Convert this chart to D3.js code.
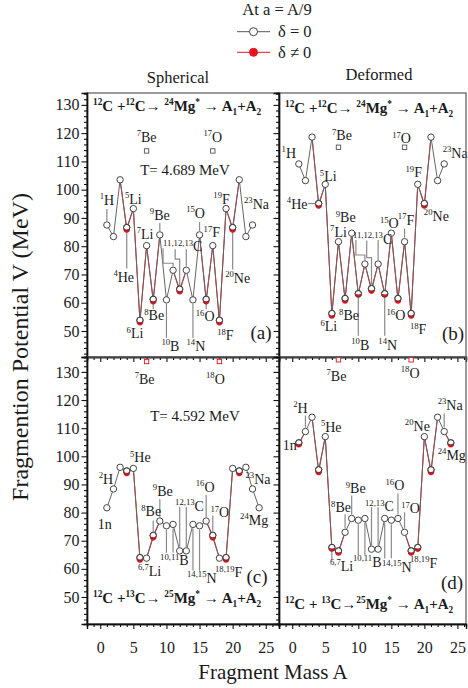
<!DOCTYPE html>
<html><head><meta charset="utf-8">
<script src="https://cdn.jsdelivr.net/npm/d3@7/dist/d3.min.js"></script>
<style>
html,body{margin:0;padding:0;background:#fff;}
svg{display:block;}
text{font-family:"Liberation Serif","Times New Roman",Times,serif;fill:#1a1a1a;}
</style></head><body>
<svg id="chart" width="468" height="688"></svg>
<script>
// ================= DATA =================
const massA24 = [1,2,3,4,5,6,7,8,9,10,11,12,13,14,15,16,17,18,19,20,21,22,23];
const massA25 = [1,2,3,4,5,6,7,8,9,10,11,12,13,14,15,16,17,18,19,20,21,22,23,24];

// (a) 12C+12C, spherical
const vSph12Zero = [87.5,83.4,103.5,86.6,93.3,53.8,80.2,61.2,84.0,61.0,71.5,64.8,71.5,61.0,84.0,61.2,80.2,53.8,93.3,86.6,103.5,83.4,87.5];
const vSph12Def  = [87.5,83.4,103.5,85.9,93.3,53.1,80.2,60.5,84.0,61.0,71.5,64.1,71.5,61.0,84.0,60.5,80.2,53.1,93.3,85.9,103.5,83.4,87.5];
// (b) 12C+12C, deformed
const vDef12Zero = [109.1,103.2,118.6,95.1,101.9,56.2,81.6,61.5,84.6,63.2,73.7,65.0,73.7,63.2,84.6,61.5,81.6,56.2,101.9,95.1,118.6,103.2,109.1];
const vDef12Def  = [109.1,103.2,118.6,94.4,101.9,55.5,81.6,60.8,84.6,62.9,73.7,64.3,73.7,62.9,84.6,60.8,81.6,55.5,101.9,94.4,118.6,103.2,109.1];
// (c) 12C+13C, spherical
const vSph13Zero = [81.7,88.4,96.1,94.8,95.7,64.0,63.8,71.9,77.0,75.3,75.8,66.4,66.4,75.8,75.3,77.0,71.9,63.8,64.0,95.7,94.8,96.1,88.4,81.7];
const vSph13Def  = [81.7,88.4,96.1,94.1,95.7,63.3,63.8,71.2,77.0,75.3,75.8,66.4,66.4,75.8,75.3,77.0,71.2,63.8,63.3,95.7,94.1,96.1,88.4,81.7];
// (d) 12C+13C, deformed
const vDef13Zero = [104.8,108.8,113.9,95.2,107.0,67.6,66.4,73.0,77.9,77.3,77.9,67.0,67.0,77.9,77.3,77.9,73.0,66.4,67.6,107.0,95.2,113.9,108.8,104.8];
const vDef13Def  = [104.3,108.8,113.9,94.4,107.0,67.2,65.8,73.0,77.9,77.3,77.9,67.0,67.0,77.9,77.3,77.9,73.0,65.8,67.2,107.0,94.4,113.9,108.8,104.3];

// isolated square markers
const sq12Mass = [7, 17];
const sq12Names = [['7','Be'],['17','O']];
const vSph12Square = [113.7, 113.7];
const vDef12Square = [115.0, 115.0];
const sq13Mass = [7, 18];
const sq13Names = [['7','Be'],['18','O']];
const vSph13Square = [133.7, 133.7];
const vDef13Square = [134.3, 134.3];

const xTickValues = [0,5,10,15,20,25];
const yTickValues = [50,60,70,80,90,100,110,120,130];
const temperatures = ['T= 4.689 MeV', 'T= 4.592 MeV'];
const columnTitles = ['Spherical','Deformed'];
const legendTitle = 'At a = A/9';
const legendLabels = ['\u03b4 = 0', '\u03b4 \u2260  0'];
const panelTags = ['(a)','(b)','(c)','(d)'];
const xAxisTitle = 'Fragment Mass A';
const yAxisTitle = 'Fragmention Potential V (MeV)';

// ================= LAYOUT =================
const W = 468, H = 688;
const colX = [[87,279],[279,466]];
const rowY = [[93,357],[357,624]];
const xDomains = [[-2,27],[-2,26.3]];
const yDomains = [[40.8,134.2],[40.4,135.3]];
const RED = '#e8131b', LINE = '#666666', LEAD = '#8a8a8a';

const title12 = [['12','sup'],['C +','n'],['12','sup'],['C\u2192 ','n'],['24','sup'],['Mg','n'],['*','sup'],[' \u2192 A','n'],['1','sub'],['+A','n'],['2','sub']];
const title13c = [['12','sup'],['C +','n'],['13','sup'],['C\u2192 ','n'],['25','sup'],['Mg','n'],['*','sup'],[' \u2192 A','n'],['1','sub'],['+A','n'],['2','sub']];
const title13d = [['12','sup'],['C + ','n'],['13','sup'],['C\u2192','n'],['25','sup'],['Mg','n'],['*','sup'],[' \u2192 A','n'],['1','sub'],['+A','n'],['2','sub']];

const panels = [
 {col:0,row:0, mass:massA24, v0:vSph12Zero, v1:vSph12Def, sqM:sq12Mass, sqV:vSph12Square, sqN:sq12Names, sqColor:'#555',
  sqOff:[[0,-9],[0,-9]], title:title12, titlePos:[93,111], tag:panelTags[0], tagPos:[261,339], temp:temperatures[0], tempPos:[185,175],
  labels:[[1,'1','H',0,-20,[-4,-16]],[4,'4','He',-3,54,[4,41]],[5,'5','Li',0,-5,null],[6,'6','Li',-5,18,null],
   [7,'7','Li',-1.5,-7,null],[8,'8','Be',1,21,[4,10]],[9,'9','Be',0,-15,[-4,-12]],[10,'10','B',4,51,[4,38]],
   [14,'14','N',3,51,[4,38]],[15,'15','O',-4,-17,[-4,-13]],[16,'16','O',-1,22,[4,10]],[17,'17','F',-1,-8.5,null],
   [18,'18','F',6,20,null],[19,'19','F',-4.5,-5,null],[20,'20','Ne',5,55,[4,42]],[23,'23','Na',4,-16,null]],
  groups:[{ref:11, parts:[['11,12,13','sup'],['C','n']], dx:-10, dy:-19,
     leaders:[[11,[[-10,-22],[-10,-7],[0,-7],[0,-4]]],[12,[[-4.5,-40],[-4.5,-30],[0,-30],[0,-4]]],[13,[[0,-21],[0,-4]]]]}]},
 {col:1,row:0, mass:massA24, v0:vDef12Zero, v1:vDef12Def, sqM:sq12Mass, sqV:vDef12Square, sqN:sq12Names, sqColor:'#555',
  sqOff:[[3.5,-7],[-3,-4]], title:title12, titlePos:[285,113], tag:panelTags[1], tagPos:[453,340], temp:null,
  labels:[[1,'1','H',-10,-6,null],[4,'4','He',-21.5,5,'h'],[5,'5','Li',3,-3,null],[6,'6','Li',-3,18,null],
   [7,'7','Li',0,-5,null],[8,'8','Be',4,22,null],[9,'9','Be',-6,-11,null],[10,'10','B',2,56,[4,42]],
   [14,'14','N',3,56,[4,42]],[15,'15','O',-2,-5,null],[16,'16','O',-2,22,null],[17,'17','F',1.5,-17,[-4,-13]],
   [18,'18','F',7,21,null],[19,'19','F',-4,-7,null],[20,'20','Ne',12,17,null],[23,'23','Na',11,-6,null]],
  groups:[{ref:11, parts:[['11,12,13','sup'],['C','n']], dx:-12, dy:-20,
     leaders:[[11,[[-9,-24],[-9,-9],[0,-9],[0,-4]]],[12,[[-4.8,-48],[-4.8,-31],[0,-31],[0,-4]]],[13,[[0,-24],[0,-4]]]]}]},
 {col:0,row:1, mass:massA25, v0:vSph13Zero, v1:vSph13Def, sqM:sq13Mass, sqV:vSph13Square, sqN:sq13Names, sqColor:RED,
  sqOff:[[-2,22],[-4,22]], title:title13c, titlePos:[93,603], tag:panelTags[2], tagPos:[257,583], temp:temperatures[1], tempPos:[195,421],
  labels:[[1,'','1n',-2,21,null],[2,'2','H',-7.5,-5,null],[5,'5','He',7,-6,null],[8,'8','Be',-2,-19,[-4,-15]],
   [9,'9','Be',3,-25,[-4,-22]],[16,'16','O',-1,-29,[-4,-26]],[17,'17','O',7,-18,[-4,-20]],
   [23,'23','Na',5.5,-5,null],[24,'24','Mg',-5,17,null]],
  groups:[{ref:6, parts:[['6,7','sup'],['Li','n']], dx:-2, dy:18, leaders:[]},
   {ref:10, parts:[['10,11','sup'],['B','n']], dx:-6.4, dy:39.5, leaders:[[10,[[0,4],[0,27]]],[11,[[0,4],[0,28]]]]},
   {ref:12, parts:[['12,13','sup'],['C','n']], dx:-4.6, dy:-40, leaders:[[12,[[0,-44],[0,-4]]],[13,[[0,-44],[0,-4]]]]},
   {ref:14, parts:[['14,15','sup'],['N','n']], dx:-5.9, dy:58.6, leaders:[[14,[[0,4],[0,46]]],[15,[[0,4],[0,45]]]]},
   {ref:18, parts:[['18,19','sup'],['F','n']], dx:-4.4, dy:19.3, leaders:[]}]},
 {col:1,row:1, mass:massA25, v0:vDef13Zero, v1:vDef13Def, sqM:sq13Mass, sqV:vDef13Square, sqN:sq13Names, sqColor:RED,
  sqOff:[[-2,21],[-1,18]], title:title13d, titlePos:[285,609], tag:panelTags[3], tagPos:[452,589], temp:null,
  labels:[[1,'','1n',-9,7,null],[2,'2','H',-5,-19,[-4,-16]],[5,'5','He',6,-5,null],[8,'8','Be',-4,-20,[-4,-18]],
   [9,'9','Be',4,-25,[-4,-23]],[16,'16','O',-3,-28,[-4,-25]],[17,'17','O',6,-19,[-4,-20]],
   [20,'20','Ne',-7,-6,null],[23,'23','Na',6,-22,[-4,-18]],[24,'24','Mg',1,17,null]],
  groups:[{ref:6, parts:[['6,7','sup'],['Li','n']], dx:-1.9, dy:23.5, leaders:[[6,[[0,4],[0,13]]]]},
   {ref:10, parts:[['10,11','sup'],['B','n']], dx:-5.3, dy:46.8, leaders:[[10,[[0,4],[0,35]]],[11,[[0,4],[0,37]]]]},
   {ref:12, parts:[['12,13','sup'],['C','n']], dx:-6.5, dy:-38, leaders:[[12,[[0,-42],[0,-4]]],[13,[[0,-42],[0,-4]]]]},
   {ref:14, parts:[['14,15','sup'],['N','n']], dx:-2.7, dy:53.5, leaders:[[14,[[0,4],[0,40]]],[15,[[0,4],[0,38]]]]},
   {ref:18, parts:[['18,19','sup'],['F','n']], dx:-1.2, dy:17, leaders:[]}]}
];

// ================= DRAW =================
const svg = d3.select('#chart');
svg.append('rect').attr('width',W).attr('height',H).attr('fill','#fff');

function rich(parent, x, y, parts, size, anchor, bold){
  const t = parent.append('text').attr('x',x).attr('y',y)
    .attr('text-anchor',anchor||'middle').attr('font-size',size);
  if (bold) t.attr('font-weight','bold');
  let shift = 0;
  parts.forEach(([s,k])=>{
    const target = k==='sup' ? -size*0.4 : (k==='sub' ? size*0.28 : 0);
    t.append('tspan').attr('dy', target - shift)
      .attr('font-size', k==='n' ? size : size*0.62).text(s);
    shift = target;
  });
  return t;
}

const lowerHalf = d3.arc()({innerRadius:0, outerRadius:3.3, startAngle:Math.PI*0.42, endAngle:Math.PI*1.58});

panels.forEach(p=>{
  const [x0,x1] = colX[p.col], [y0,y1] = rowY[p.row];
  const x = d3.scaleLinear().domain(xDomains[p.col]).range([x0,x1]);
  const y = d3.scaleLinear().domain(yDomains[p.row]).range([y1,y0]);
  const g = svg.append('g');
  const px = A => x(A), py = i => y(p.v0[i]);
  const idx = A => p.mass.indexOf(A);
  const isDiff = i => p.v0[i] - p.v1[i] > 0.05;

  // delta != 0 segments (red) underneath, delta = 0 line (grey) on top
  const segs = d3.range(p.mass.length-1).filter(i=>isDiff(i)||isDiff(i+1));
  g.selectAll('line.rs').data(segs).join('line').attr('class','rs')
    .attr('x1',i=>x(p.mass[i])).attr('y1',i=>y(p.v1[i]))
    .attr('x2',i=>x(p.mass[i+1])).attr('y2',i=>y(p.v1[i+1]))
    .attr('stroke',RED).attr('stroke-width',1);
  const line = d3.line().x((d,i)=>x(p.mass[i])).y(d=>y(d));
  g.append('path').attr('d', line(p.v0)).attr('fill','none').attr('stroke',LINE).attr('stroke-width',1);

  // leaders (labels)
  const lg = g.append('g').attr('stroke',LEAD).attr('stroke-width',1.2).attr('fill','none');
  p.labels.forEach(([A,sup,el,dx,dy,lead])=>{
    const cx = px(A), cy = py(idx(A));
    if (lead === 'h') lg.append('line').attr('x1',cx-10.5).attr('x2',cx-3.5).attr('y1',cy).attr('y2',cy);
    else if (lead) lg.append('line').attr('x1',cx).attr('x2',cx).attr('y1',cy+lead[0]).attr('y2',cy+lead[1]);
  });
  p.groups.forEach(gr=>{
    gr.leaders.forEach(([A,pts])=>{
      const cx = px(A), cy = py(idx(A));
      lg.append('path').attr('d', d3.line()(pts.map(([a,b])=>[cx+a, cy+b])));
    });
  });

  // open circles (delta = 0)
  g.selectAll('circle.o').data(p.v0).join('circle').attr('class','o')
    .attr('cx',(d,i)=>x(p.mass[i])).attr('cy',d=>y(d)).attr('r',3.2)
    .attr('fill','#fff').attr('stroke','#444').attr('stroke-width',1);
  // red filled circles (delta != 0), shown as lower half under the open marker outline
  const diff = p.v1.map((d,i)=>({A:p.mass[i], v:d, i})).filter(d=>isDiff(d.i));
  g.selectAll('path.r').data(diff).join('path').attr('class','r')
    .attr('transform',d=>`translate(${x(d.A)},${y(d.v)})`).attr('d',lowerHalf)
    .attr('fill',RED).attr('stroke','none');
  g.selectAll('circle.oo').data(diff).join('circle').attr('class','oo')
    .attr('cx',d=>x(d.A)).attr('cy',d=>y(p.v0[d.i])).attr('r',3.2)
    .attr('fill','none').attr('stroke','#444').attr('stroke-width',0.9);

  // squares
  p.sqM.forEach((A,i)=>{
    const sx = x(A), sy = y(p.sqV[i]);
    g.append('rect').attr('x',sx-2.2).attr('y',sy-2.2).attr('width',4.4).attr('height',4.4)
      .attr('fill','#fff').attr('stroke',p.sqColor).attr('stroke-width',0.9);
    rich(g, sx+p.sqOff[i][0], sy+p.sqOff[i][1], [[p.sqN[i][0],'sup'],[p.sqN[i][1],'n']], 14);
  });

  // labels
  p.labels.forEach(([A,sup,el,dx,dy])=>{
    const cx = px(A), cy = py(idx(A));
    const parts = sup ? [[sup,'sup'],[el,'n']] : [[el,'n']];
    rich(g, cx+dx, cy+dy, parts, 14);
  });
  p.groups.forEach(gr=>{
    const cx = px(gr.ref), cy = py(idx(gr.ref));
    rich(g, cx+gr.dx, cy+gr.dy, gr.parts, 14, 'start');
  });

  // frame
  g.append('rect').attr('x',x0).attr('y',y0).attr('width',x1-x0).attr('height',y1-y0)
    .attr('fill','none').attr('stroke','#666').attr('stroke-width',1.3);

  // y axis
  const ya = g.append('g').attr('transform',`translate(${x0},0)`);
  const yMinor = d3.range(42, 136, 2).filter(v=>v%10!==0 && v<=yDomains[p.row][1]);
  ya.append('g').call(d3.axisLeft(y).tickValues(yMinor).tickSize(3).tickFormat(''));
  ya.append('g').call(d3.axisLeft(y).tickValues(yTickValues).tickSize(5.5).tickPadding(2)
     .tickFormat(p.col===0 ? d3.format('d') : ''));
  ya.selectAll('path.domain').attr('stroke','#111').attr('stroke-width',1.4);
  ya.selectAll('.tick line').attr('stroke','#111').attr('stroke-width',1.1);
  ya.selectAll('text').attr('font-size',16).attr('fill','#1a1a1a')
    .attr('font-family','"Liberation Serif","Times New Roman",serif');

  // x axis
  const xa = g.append('g').attr('transform',`translate(0,${y1})`);
  const xMinor = d3.range(-1, 27, 1).filter(v=>v%5!==0 && v<=xDomains[p.col][1]);
  xa.append('g').call(d3.axisBottom(x).tickValues(xMinor).tickSize(3).tickFormat(''));
  xa.append('g').call(d3.axisBottom(x).tickValues(xTickValues).tickSize(5).tickPadding(13)
     .tickFormat(p.row===1 ? d3.format('d') : ''));
  xa.selectAll('path.domain').attr('stroke','#111').attr('stroke-width',1.4);
  xa.selectAll('.tick line').attr('stroke','#111').attr('stroke-width',1.1);
  xa.selectAll('text').attr('font-size',16).attr('fill','#1a1a1a')
    .attr('font-family','"Liberation Serif","Times New Roman",serif');

  // titles, tags, temperatures
  rich(svg, p.titlePos[0], p.titlePos[1], p.title, 15, 'start', true);
  svg.append('text').attr('x',p.tagPos[0]).attr('y',p.tagPos[1]).attr('text-anchor','middle')
    .attr('font-size',19).text(p.tag);
  if (p.temp) svg.append('text').attr('x',p.tempPos[0]).attr('y',p.tempPos[1]).attr('text-anchor','middle')
    .attr('font-size',15).text(p.temp);
});

// column titles
svg.append('text').attr('x',178).attr('y',83).attr('text-anchor','middle').attr('font-size',16.5).text(columnTitles[0]);
svg.append('text').attr('x',379).attr('y',80).attr('text-anchor','middle').attr('font-size',16.5).text(columnTitles[1]);

// legend
svg.append('text').attr('x',277).attr('y',15).attr('text-anchor','middle').attr('font-size',16.5).text(legendTitle);
const lgd = svg.append('g');
[[31.7,'#444','#fff'],[52.3,RED,RED]].forEach(([ly,lc,fc],i)=>{
  lgd.append('line').attr('x1',237).attr('x2',270).attr('y1',ly).attr('y2',ly).attr('stroke',i? RED : '#555').attr('stroke-width',1);
  lgd.append('circle').attr('cx',253.5).attr('cy',ly).attr('r',4).attr('fill',fc).attr('stroke',lc).attr('stroke-width',1);
  lgd.append('text').attr('x',278).attr('y',ly+5.5).attr('font-size',16.5).text(legendLabels[i]);
});

// axis titles
svg.append('text').attr('x',273).attr('y',679).attr('text-anchor','middle').attr('font-size',21).text(xAxisTitle);
svg.append('text').attr('transform','translate(28,347) rotate(-90)').attr('text-anchor','middle')
  .attr('font-size',24).text(yAxisTitle);
</script>
</body></html>
